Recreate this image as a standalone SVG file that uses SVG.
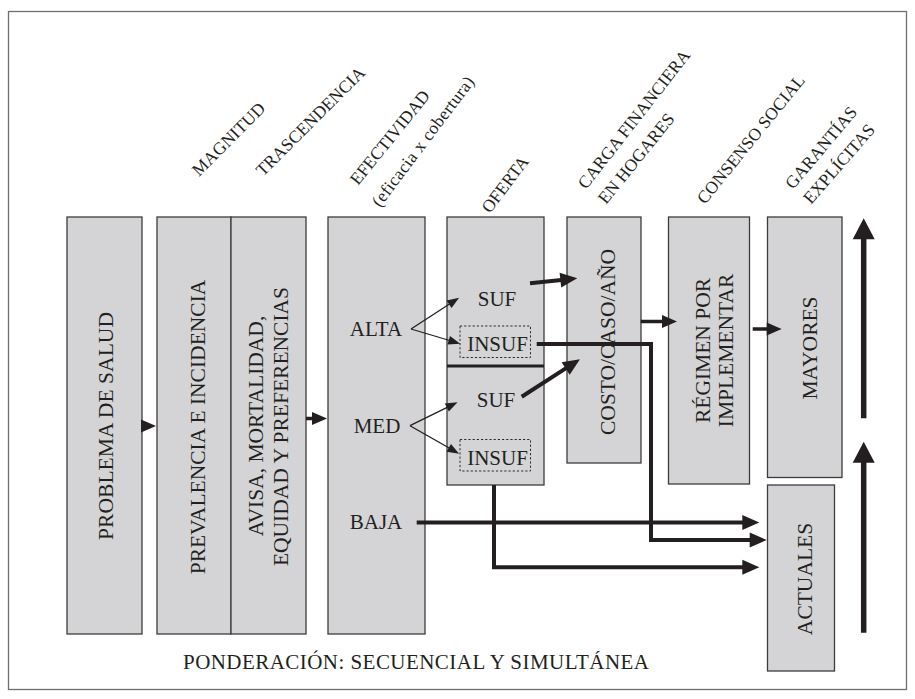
<svg xmlns="http://www.w3.org/2000/svg" width="915" height="699" viewBox="0 0 915 699">
<style>
.frame{fill:#fff;stroke:#6e6e6e;stroke-width:1.3}
.box{fill:#d4d4d6;stroke:#3c3c3c;stroke-width:1.3}
.dot{fill:none;stroke:#2a2a2a;stroke-width:1;stroke-dasharray:2.2 2}
.t{font-family:"Liberation Serif","Times New Roman",serif;fill:#231f20}
.v{font-size:21.5px;text-anchor:middle}
.h{font-size:21px;text-anchor:middle}
.lab{font-size:17.5px}
.thin{fill:none;stroke:#231f20;stroke-width:1.3}
.med{fill:none;stroke:#231f20;stroke-width:3.5}
.thick{fill:none;stroke:#231f20;stroke-width:4}
.big{fill:none;stroke:#231f20;stroke-width:5.5}
</style>
<defs>
<marker id="aThin" markerUnits="userSpaceOnUse" markerWidth="12" markerHeight="10" refX="0" refY="4.5" orient="auto" overflow="visible"><path d="M-1,0 L11,4.5 L-1,9 z" fill="#231f20"/></marker>
<marker id="aMed" markerUnits="userSpaceOnUse" markerWidth="16" markerHeight="14" refX="0" refY="6.5" orient="auto" overflow="visible"><path d="M-1,0 L14,6.5 L-1,13 z" fill="#231f20"/></marker>
<marker id="aThick" markerUnits="userSpaceOnUse" markerWidth="18" markerHeight="16" refX="0" refY="7.5" orient="auto" overflow="visible"><path d="M-1,0 L16,7.5 L-1,15 z" fill="#231f20"/></marker>
<marker id="aBig" markerUnits="userSpaceOnUse" markerWidth="22" markerHeight="23" refX="0" refY="11" orient="auto" overflow="visible"><path d="M-1,0 L20,11 L-1,22 z" fill="#231f20"/></marker>
</defs>
<rect class="frame" x="8.5" y="11.5" width="898" height="678"/>

<g id="labels" class="t lab">
<text transform="translate(199,177) rotate(-45)">MAGNITUD</text>
<text transform="translate(263,177) rotate(-45)">TRASCENDENCIA</text>
<text transform="translate(358,186) rotate(-51)">EFECTIVIDAD</text>
<text transform="translate(380,208) rotate(-53)" textLength="158" lengthAdjust="spacing">(eficacia x cobertura)</text>
<text transform="translate(490,214) rotate(-53)">OFERTA</text>
<text transform="translate(586,190) rotate(-52)">CARGA FINANCIERA</text>
<text transform="translate(606,205) rotate(-51)">EN HOGARES</text>
<text transform="translate(705,205) rotate(-51)">CONSENSO SOCIAL</text>
<text transform="translate(793,190) rotate(-50)">GARANTÍAS</text>
<text transform="translate(811,205) rotate(-49)">EXPLÍCITAS</text>
</g>

<g id="problema">
<rect class="box" x="67" y="217" width="75" height="417"/>
<text class="t v" transform="translate(113,426) rotate(-90)" textLength="228" lengthAdjust="spacing">PROBLEMA DE SALUD</text>
</g>
<g id="prevalencia">
<rect class="box" x="157" y="217" width="74" height="417"/>
<text class="t v" transform="translate(205,427) rotate(-90)">PREVALENCIA E INCIDENCIA</text>
</g>
<g id="avisa">
<rect class="box" x="231" y="217" width="75" height="417"/>
<text class="t v" transform="translate(263,426) rotate(-90)">AVISA, MORTALIDAD,</text>
<text class="t v" transform="translate(288,426.5) rotate(-90)">EQUIDAD Y PREFERENCIAS</text>
</g>
<g id="efectividad">
<rect class="box" x="328" y="217" width="97" height="417"/>
<text class="t h" x="376" y="336">ALTA</text>
<text class="t h" x="377" y="433">MED</text>
<text class="t h" x="376" y="529">BAJA</text>
</g>
<g id="oferta">
<rect class="box" x="447" y="217" width="97" height="268"/>
<line x1="447" y1="366" x2="544" y2="366" stroke="#231f20" stroke-width="3"/>
<text class="t h" x="497" y="306">SUF</text>
<rect class="dot" x="460" y="326" width="70.5" height="31.5"/>
<text class="t h" x="497.5" y="350.5">INSUF</text>
<text class="t h" x="496" y="407">SUF</text>
<rect class="dot" x="460" y="439.5" width="70.5" height="31.5"/>
<text class="t h" x="497.5" y="464.5">INSUF</text>
</g>
<g id="costo">
<rect class="box" x="567" y="217" width="74" height="246"/>
<text class="t v" transform="translate(615,342) rotate(-90)">COSTO/CASO/AÑO</text>
</g>
<g id="regimen">
<rect class="box" x="668.5" y="217" width="81" height="267"/>
<text class="t v" transform="translate(710,350.5) rotate(-90)">RÉGIMEN POR</text>
<text class="t v" transform="translate(733,350.5) rotate(-90)">IMPLEMENTAR</text>
</g>
<g id="mayores">
<rect class="box" x="767.5" y="217" width="74.5" height="260.5"/>
<text class="t v" transform="translate(817,348) rotate(-90)">MAYORES</text>
</g>
<g id="actuales">
<rect class="box" x="767.5" y="485" width="67" height="186"/>
<text class="t v" transform="translate(812,579) rotate(-90)">ACTUALES</text>
</g>

<g id="connectors">
<path class="med" d="M141,426 H142" marker-end="url(#aMed)"/>
<path class="med" d="M306,418.5 H313" marker-end="url(#aMed)"/>
<path class="thin" d="M411,329 L449.9,303.7" marker-end="url(#aThin)"/>
<path class="thin" d="M411,329 L449.7,340.5" marker-end="url(#aThin)"/>
<path class="thin" d="M410,425.7 L447.7,407.1" marker-end="url(#aThin)"/>
<path class="thin" d="M410,425.7 L449.6,448.3" marker-end="url(#aThin)"/>
<path class="thick" d="M530,283.3 L561.4,280" marker-end="url(#aThick)"/>
<path class="thick" d="M521.7,396.7 L566.5,367.9" marker-end="url(#aThick)"/>
<path class="thick" d="M536.7,344 H651 V540 H750.7" marker-end="url(#aThick)"/>
<path class="thick" d="M416.7,522.5 H743.3" marker-end="url(#aThick)"/>
<path class="thick" d="M494,485 V567.3 H743.3" marker-end="url(#aThick)"/>
<path class="med" d="M640.7,321.5 H663" marker-end="url(#aMed)"/>
<path class="med" d="M752.7,329 H767.7" marker-end="url(#aMed)"/>
<path class="big" d="M863.7,418.3 V238.3" marker-end="url(#aBig)"/>
<path class="big" d="M863.7,632.7 V461.7" marker-end="url(#aBig)"/>
</g>

<text class="t" x="183" y="669" font-size="21" textLength="466" lengthAdjust="spacing">PONDERACIÓN: SECUENCIAL Y SIMULTÁNEA</text>
</svg>
